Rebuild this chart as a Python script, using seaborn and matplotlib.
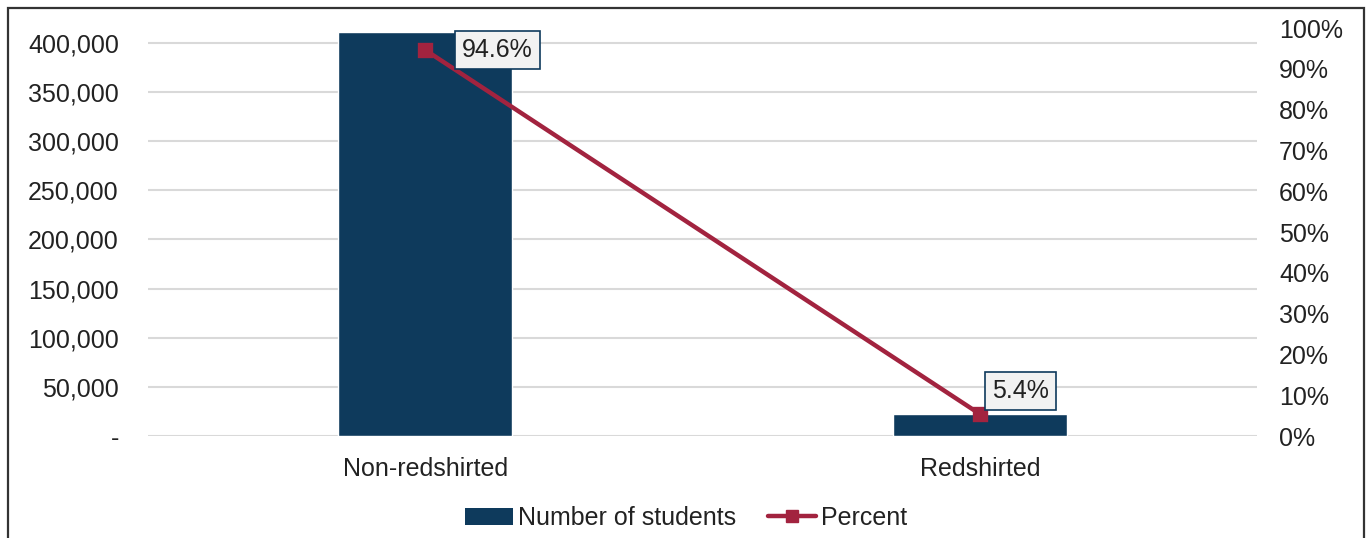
import matplotlib
matplotlib.use("Agg")
import matplotlib.pyplot as plt
import matplotlib.ticker as mticker
from matplotlib.patches import Rectangle
from matplotlib.lines import Line2D
from matplotlib.patches import Patch
import seaborn as sns
import pandas as pd

# Data
categories = ["Non-redshirted", "Redshirted"]
students = [411000, 22400]
percent = [0.946, 0.054]
percent_labels = ["94.6%", "5.4%"]

BAR_COLOR = "#0e3a5c"
LINE_COLOR = "#a2233f"
TEXT_COLOR = "#222222"
FS = 18

sns.set_theme(style="white")
plt.rcParams["font.family"] = ["Liberation Sans", "DejaVu Sans"]
plt.rcParams["font.size"] = FS

df = pd.DataFrame({"category": categories, "students": students, "percent": percent})

fig = plt.figure(figsize=(13.72, 5.38), dpi=100)
ax = fig.add_axes([148 / 1372, 1 - 436 / 538, (1257 - 148) / 1372, (436 - 28) / 538])

sns.barplot(data=df, x="category", y="students", color=BAR_COLOR, width=0.314,
            saturation=1, ax=ax, zorder=2)

# left axis: top of the plot area sits slightly above the 400,000 gridline
ax.set_ylim(0, 400000 * 408 / 393)
ax.set_yticks(range(0, 400001, 50000))
ax.yaxis.set_major_formatter(mticker.FuncFormatter(
    lambda v, p: "-" if v == 0 else f"{int(v):,}"))
ax.grid(axis="y", color="#d9d9d9", linewidth=1.5, zorder=0)
ax.set_axisbelow(True)
for s in ax.spines.values():
    s.set_visible(False)
ax.set_xlabel("")
ax.set_ylabel("")
ax.tick_params(axis="y", labelsize=FS, colors=TEXT_COLOR, length=0, pad=21)
ax.tick_params(axis="x", labelsize=FS, colors=TEXT_COLOR, length=0, pad=15)

ax2 = ax.twinx()
sns.pointplot(data=df, x="category", y="percent", color=LINE_COLOR, markers="s",
              markersize=9, linewidth=3.2, ax=ax2)
ax2.set_ylim(0, 1)
ax2.set_yticks([i / 10 for i in range(11)])
ax2.yaxis.set_major_formatter(mticker.PercentFormatter(1.0, decimals=0))
ax2.tick_params(axis="y", labelsize=FS, colors=TEXT_COLOR, length=0, pad=16)
for s in ax2.spines.values():
    s.set_visible(False)
ax2.set_ylabel("")
ax2.set_xlabel("")
ax2.grid(False)

# value labels for the percent line
offsets = [(37, 0), (12, 23)]
for i, (lab, (dx, dy)) in enumerate(zip(percent_labels, offsets)):
    ax2.annotate(lab, xy=(i, percent[i]), xytext=(dx, dy), textcoords="offset pixels",
                 ha="left", va="center", fontsize=FS, color=TEXT_COLOR, zorder=5,
                 bbox=dict(boxstyle="square,pad=0.28", facecolor="#f2f2f2",
                           edgecolor=BAR_COLOR, linewidth=1.2))

handles = [Patch(facecolor=BAR_COLOR, edgecolor="none"),
           Line2D([], [], color=LINE_COLOR, linewidth=3.2, marker="s", markersize=9)]
fig.legend(handles, ["Number of students", "Percent"], loc="center",
           bbox_to_anchor=(0.5, 1 - 518 / 538), ncol=2, frameon=False,
           fontsize=FS, handlelength=1.9, handletextpad=0.2, columnspacing=1.3,
           labelcolor=TEXT_COLOR)

# outer frame around the chart
fig.patches.append(Rectangle((8 / 1372, -0.05), (1364 - 8) / 1372, 1 - 8 / 538 + 0.05,
                             transform=fig.transFigure, fill=False,
                             edgecolor="#333333", linewidth=1.6))

fig.savefig("out.png", dpi=100)
